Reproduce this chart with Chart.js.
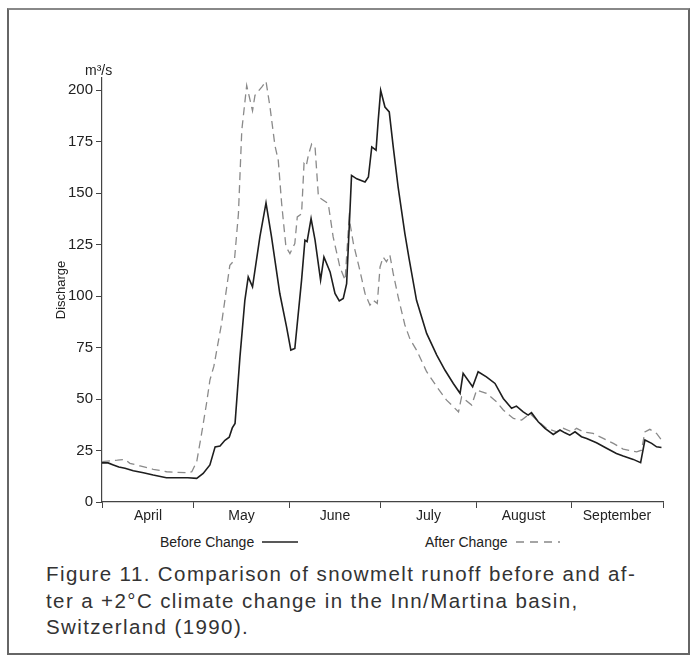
<!DOCTYPE html>
<html>
<head>
<meta charset="utf-8">
<script src="https://cdn.jsdelivr.net/npm/chart.js@4.4.1/dist/chart.umd.min.js"></script>
<style>
  body { margin: 0; background: #fff; font-family: "Liberation Sans", Arial, sans-serif; color: #222; }
  #wrap { position: relative; width: 694px; height: 659px; overflow: hidden; }
  #frame { position: absolute; left: 7px; top: 8px; width: 683px; height: 647px; border: 2px solid #666; border-top-color: #888; box-sizing: border-box; }
  #chart { position: absolute; left: 0; top: 0; }
  #unit { position: absolute; left: 85px; top: 62px; font-size: 14px; }
  .leg { position: absolute; top: 533px; font-size: 14px; height: 18px; line-height: 18px; display: flex; align-items: center; }
  .leg svg { margin-left: 6px; }
  #caption { position: absolute; left: 46px; top: 561px; font-size: 20.5px; line-height: 26.5px; letter-spacing: 1.4px; color: #333; white-space: nowrap; }
</style>
</head>
<body>
<div id="wrap">
  <div id="frame"></div>
  <canvas id="chart" width="694" height="526"></canvas>
  <div id="unit">m³/s</div>
  <div class="leg" style="left:160px">Before Change
    <svg width="40" height="4"><line x1="2" y1="2" x2="38" y2="2" stroke="#222" stroke-width="1.5"/></svg>
  </div>
  <div class="leg" style="left:425px">After Change
    <svg width="46" height="4"><line x1="2" y1="2" x2="46" y2="2" stroke="#888" stroke-width="1.3" stroke-dasharray="8,6"/></svg>
  </div>
  <div id="caption">Figure 11. Comparison of snowmelt runoff before and af-<br>ter a +2°C climate change in the Inn/Martina basin,<br>Switzerland (1990).</div>
</div>
<script>
// days counted from 1 April
const months = ['April', 'May', 'June', 'July', 'August', 'September'];
const monthEdges = [0, 30, 61, 91, 122, 153, 183];
const yTicks = [0, 25, 50, 75, 100, 125, 150, 175, 200];

// Before Change (solid)
const beforeDays = [0, 2, 3.7, 5.5, 7.5, 10.2, 13.5, 16.7, 21, 24.4, 28, 30.9, 33, 35.2, 36.9, 38.5, 40.1, 41.5, 42.5, 43.4,
  45, 46.6, 47.7, 49.1, 51.5, 53.5, 55.3, 58, 60.2, 61.6, 62.9, 65.1, 66.2, 66.9, 68.2, 69.5, 71.3, 72.4, 74.4, 76,
  77.4, 78.7, 79.8, 80.7, 81.4, 83.1, 85.8, 86.9, 88, 89.4, 90.1, 90.9, 92.3, 93.7, 95, 96.6, 98.8, 100.2, 102.6, 105.9,
  109.2, 111.9, 114.6, 116.8, 117.8, 120.9, 122.7, 125.4, 128.2, 130.9, 133.6, 135.2, 137.4, 139, 140.1, 142.3, 144.5, 147.2, 149.4, 151,
  152.6, 154.3, 156.4, 158.1, 161.3, 164.6, 167.8, 170, 173.3, 175.7, 177.1, 179.3, 180.9, 182.5];
const beforeQ = [19, 19, 18, 17, 16.4, 15.2, 14.2, 13.1, 11.8, 11.8, 11.8, 11.5, 13.9, 18, 26.8, 27.2, 30, 31.5, 36, 38.2,
  70.5, 98, 109.4, 104.5, 128.8, 145.3, 128.8, 101.3, 85.1, 73.8, 74.6, 107.8, 127.2, 126.5, 137.7, 127.2, 107.8, 119, 111.8, 101.3,
  97.7, 98.9, 106.1, 135.3, 158.7, 157, 155.5, 157.9, 172.5, 170.9, 185.4, 200, 191.9, 189.5, 172.5, 153, 130.4, 118, 98, 81.9,
  71.4, 64, 57.6, 52.8, 62.5, 56, 63.3, 60.8, 57.6, 50.3, 45.5, 46.6, 43.8, 42.2, 43.4, 39, 35.8, 32.8, 35, 33.6,
  32.5, 34.1, 31.7, 30.9, 28.8, 26.1, 23.6, 22.3, 20.7, 19.1, 30.1, 28.5, 26.8, 26.5];

// After Change (dashed)
const afterDays = [0, 2.6, 5, 7.5, 9.1, 12.4, 16.7, 21.1, 27.6, 29.3, 30.9, 32.5, 34.1, 35.2, 36.5, 39, 41.7, 43.2, 44.5, 45.6,
  47.2, 49.1, 49.9, 52.1, 53.5, 54.8, 56.4, 57.5, 58.6, 60, 61.3, 62.9, 63.7, 65.1, 65.9, 66.6, 67.3, 68.4, 69.5, 70.6,
  72.2, 73.8, 75.4, 77.6, 79.3, 80.6, 82, 84.1, 85.8, 87.4, 88.5, 89.8, 90.7, 91.7, 92.8, 93.9, 95, 96.6, 98.8, 100.5,
  102.6, 105.9, 109.2, 112.4, 116.3, 117.3, 120.6, 122.2, 125.4, 128.7, 130.9, 134.2, 136.9, 139.6, 141.8, 145, 148.3, 150.5, 153.2, 154.8,
  157, 160.2, 163.5, 166.8, 170, 174.4, 176, 177.1, 178.7, 180.9, 182.5];
const afterQ = [19.6, 20, 20.3, 20.7, 18.8, 17.5, 15.9, 14.7, 14.2, 14.7, 19.6, 33.3, 47.9, 59.2, 66, 86.7, 115, 117.5, 140, 180.6,
  202.4, 190, 197.6, 201.6, 204.4, 191.9, 173.3, 166, 145, 124, 120.7, 125.6, 138.5, 140, 164.4, 163, 168.4, 174, 172.5, 148.2,
  146.6, 145, 128.8, 114.2, 107.8, 138, 125.6, 112.6, 101.3, 95.6, 98, 96.5, 114.2, 119, 116.7, 120, 111, 99.7, 86, 79,
  73.8, 63.3, 56, 49.5, 43.8, 51.1, 47.1, 54.4, 52.8, 48.7, 44.7, 40.6, 39.8, 43, 39.8, 35.8, 34.1, 35.8, 34.1, 35.8,
  34.1, 33.3, 30.9, 28.5, 25.7, 24.4, 25.2, 34.1, 35.3, 33.3, 30.1];

const monthMids = months.map((m, i) => (monthEdges[i] + monthEdges[i + 1]) / 2);
const pts = (xs, ys) => xs.map((x, i) => ({ x: x, y: ys[i] }));

new Chart(document.getElementById('chart'), {
  type: 'line',
  data: {
    datasets: [{
      label: 'Before Change',
      data: pts(beforeDays, beforeQ),
      borderColor: '#1e1e1e',
      borderWidth: 1.6,
      pointRadius: 0,
      tension: 0
    }, {
      label: 'After Change',
      data: pts(afterDays, afterQ),
      borderColor: '#8a8a8a',
      borderWidth: 1.3,
      borderDash: [8, 5],
      pointRadius: 0,
      tension: 0
    }]
  },
  options: {
    responsive: false,
    animation: false,
    devicePixelRatio: 1,
    layout: { padding: { left: 50, right: 31, top: 78, bottom: 0 } },
    plugins: { legend: { display: false }, tooltip: { enabled: false } },
    scales: {
      x: {
        type: 'linear',
        min: 0,
        max: 183,
        afterBuildTicks: s => { s.ticks = monthEdges.concat(monthMids).sort((a, b) => a - b).map(v => ({ value: v })); },
        afterFit: s => { s.height = 24; },
        ticks: {
          autoSkip: false,
          maxRotation: 0,
          minRotation: 0,
          padding: 0,
          color: '#222',
          font: { family: 'Liberation Sans', size: 14 },
          callback: v => { const i = monthMids.indexOf(v); return i >= 0 ? months[i] : ''; }
        },
        grid: {
          drawOnChartArea: false,
          tickLength: 6,
          tickColor: c => (c.tick && monthEdges.includes(c.tick.value)) ? '#444' : 'rgba(0,0,0,0)'
        },
        border: { display: true, color: '#444', width: 1.2 }
      },
      y: {
        min: 0,
        max: 206,
        afterBuildTicks: s => { s.ticks = yTicks.map(v => ({ value: v })); },
        afterFit: s => { s.width = 52; },
        ticks: {
          padding: 3,
          color: '#222',
          font: { family: 'Liberation Sans', size: 15 }
        },
        grid: { drawOnChartArea: false, tickLength: 6, tickColor: '#444' },
        border: { display: true, color: '#444', width: 1.2 },
        title: {
          display: true,
          text: 'Discharge',
          color: '#222',
          font: { family: 'Liberation Sans', size: 13 }
        }
      }
    }
  }
});
</script>
</body>
</html>
